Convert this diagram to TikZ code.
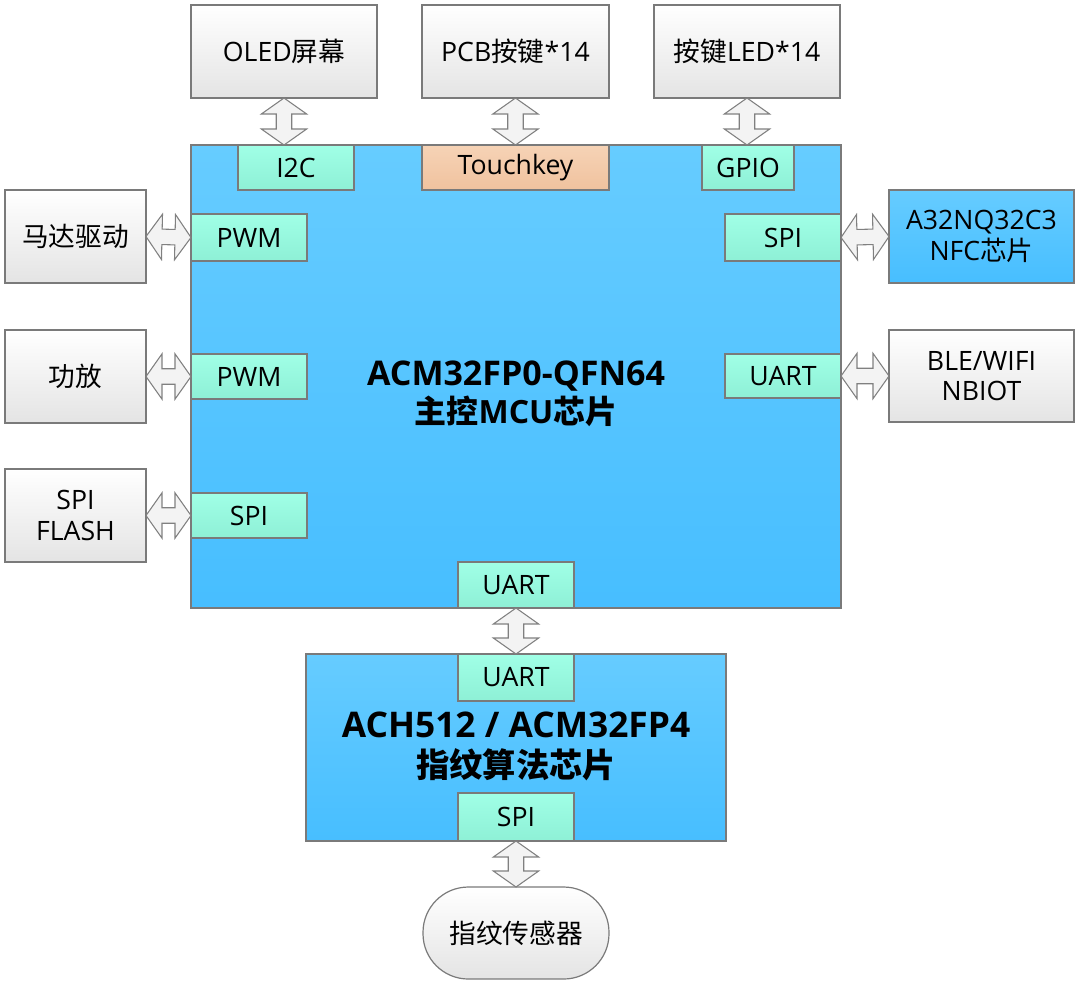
\documentclass[tikz,border=0pt]{standalone}
\usepackage{fontspec}
\setmainfont{Open Sans}
\newfontfamily\cjk{Noto Sans CJK SC}
\usetikzlibrary{calc}
\definecolor{bordergray}{HTML}{7A7A7A}
\definecolor{graybot}{HTML}{E4E4E4}
\definecolor{blueTop}{HTML}{66CCFF}
\definecolor{blueBot}{HTML}{47BEFF}
\definecolor{portTop}{HTML}{A0FFE6}
\definecolor{portBot}{HTML}{8EF0D6}
\definecolor{tkTop}{HTML}{F6D3B6}
\definecolor{tkBot}{HTML}{F0C29E}
\definecolor{arrowgray}{HTML}{808080}
\definecolor{arrowfill}{HTML}{F3F3F3}
\newcommand\mybox[7]{%
  \pgfmathsetmacro\mybw{(#4-#2)*0.75}%
  \pgfmathsetmacro\mybh{(#5-#3)*0.75}%
  \node[lbl, #6, minimum width=\mybw pt, minimum height=\mybh pt, inner sep=0pt, outer sep=0pt]
    (#1) at ({(#2+#4)/2},{(#3+#5)/2}) {#7};}
\tikzset{
  lbl/.style={font=\fontsize{20}{23}\selectfont, align=center, text=black},
  graybox/.style={draw=bordergray, line width=0.9pt, top color=white, bottom color=graybot},
  bluebox/.style={draw=bordergray, line width=0.9pt, top color=blueTop, bottom color=blueBot},
  port/.style={draw=bordergray, line width=0.9pt, top color=portTop, bottom color=portBot},
  tkport/.style={draw=bordergray, line width=0.9pt, top color=tkTop, bottom color=tkBot},
  stadium/.style={graybox, rounded corners=34pt},
  boldtxt/.style={align=center, text=black, inner sep=0pt},
  dbl/.style={draw=arrowgray, line width=0.8pt, fill=arrowfill, line join=miter,
    to path={
      -- ($(\tikztostart)!12pt!(\tikztotarget)!17pt!90:(\tikztotarget)$)
      -- ($(\tikztostart)!12pt!(\tikztotarget)!5.8pt!90:(\tikztotarget)$)
      -- ($(\tikztotarget)!12pt!(\tikztostart)!5.8pt!-90:(\tikztostart)$)
      -- ($(\tikztotarget)!12pt!(\tikztostart)!17pt!-90:(\tikztostart)$)
      -- (\tikztotarget)
      -- ($(\tikztotarget)!12pt!(\tikztostart)!17pt!90:(\tikztostart)$)
      -- ($(\tikztotarget)!12pt!(\tikztostart)!5.8pt!90:(\tikztostart)$)
      -- ($(\tikztostart)!12pt!(\tikztotarget)!5.8pt!-90:(\tikztotarget)$)
      -- ($(\tikztostart)!12pt!(\tikztotarget)!17pt!-90:(\tikztotarget)$)
      -- cycle}}
}
\begin{document}
\begin{tikzpicture}[x=0.75pt,y=-0.75pt]
\useasboundingbox (0,0) rectangle (1080,986);
% peripheral boxes
\mybox{oled}{191}{5}{377}{98}{graybox}{OLED{\cjk 屏幕}}
\mybox{pcb}{422}{5}{609}{98}{graybox}{PCB{\cjk 按键}*14}
\mybox{led}{654}{5}{840}{98}{graybox}{{\cjk 按键}LED*14}
\mybox{motor}{5}{190}{146}{283}{graybox}{{\cjk 马达驱动}}
\mybox{amp}{5}{330}{146}{423}{graybox}{{\cjk 功放}}
\mybox{flash}{5}{469}{146}{562}{graybox}{SPI\\FLASH}
\mybox{nfc}{889}{190}{1074}{283}{bluebox}{A32NQ32C3\\NFC{\cjk 芯片}}
\mybox{ble}{889}{330}{1074}{422}{graybox}{BLE/WIFI\\NBIOT}
% main MCU
\mybox{mcu}{191}{145}{841}{608}{bluebox}{}
\node[boldtxt, font=\fontsize{25.5}{28.5}\selectfont\bfseries] (mcutxt) at (516,394)
  {ACM32FP0-QFN64\\
   {\fontsize{24}{28.5}\selectfont{\cjk\bfseries 主控}MCU{\cjk\bfseries 芯片}}};
\mybox{i2c}{238}{145}{354}{190}{port}{I2C}
\mybox{touch}{422}{145}{609}{190}{tkport}{Touchkey}
\mybox{gpio}{702}{145}{794}{190}{port}{GPIO}
\mybox{pwma}{191}{214}{307}{261}{port}{PWM}
\mybox{pwmb}{191}{354}{307}{399}{port}{PWM}
\mybox{spil}{191}{493}{307}{538}{port}{SPI}
\mybox{spir}{725}{214}{841}{261}{port}{SPI}
\mybox{uartr}{725}{354}{841}{398}{port}{UART}
\mybox{uartb}{458}{562}{574}{608}{port}{UART}
% fingerprint chip
\mybox{fp}{306}{654}{726}{841}{bluebox}{}
\node[boldtxt, font=\fontsize{26.5}{30}\selectfont\bfseries] (fptxt) at (516,746)
  {ACH512 / ACM32FP4\\
   {\fontsize{25}{30}\selectfont\cjk\bfseries 指纹算法芯片}};
\mybox{uartf}{458}{654}{574}{701}{port}{UART}
\mybox{spif}{458}{793}{574}{841}{port}{SPI}
\mybox{sensor}{423}{887}{609}{979}{stadium}{{\cjk 指纹传感器}}
% double arrows
\draw[dbl] (oled.south) to (oled.south |- i2c.north);
\draw[dbl] (pcb.south) to (touch.north);
\draw[dbl] (led.south) to (led.south |- gpio.north);
\draw[dbl] (motor.east) to (pwma.west);
\draw[dbl] (amp.east) to (pwmb.west);
\draw[dbl] (flash.east) to (spil.west);
\draw[dbl] (spir.east) to (nfc.west);
\draw[dbl] (uartr.east) to (ble.west);
\draw[dbl] (uartb.south) to (uartf.north);
\draw[dbl] (spif.south) to (sensor.north);
\end{tikzpicture}
\end{document}
